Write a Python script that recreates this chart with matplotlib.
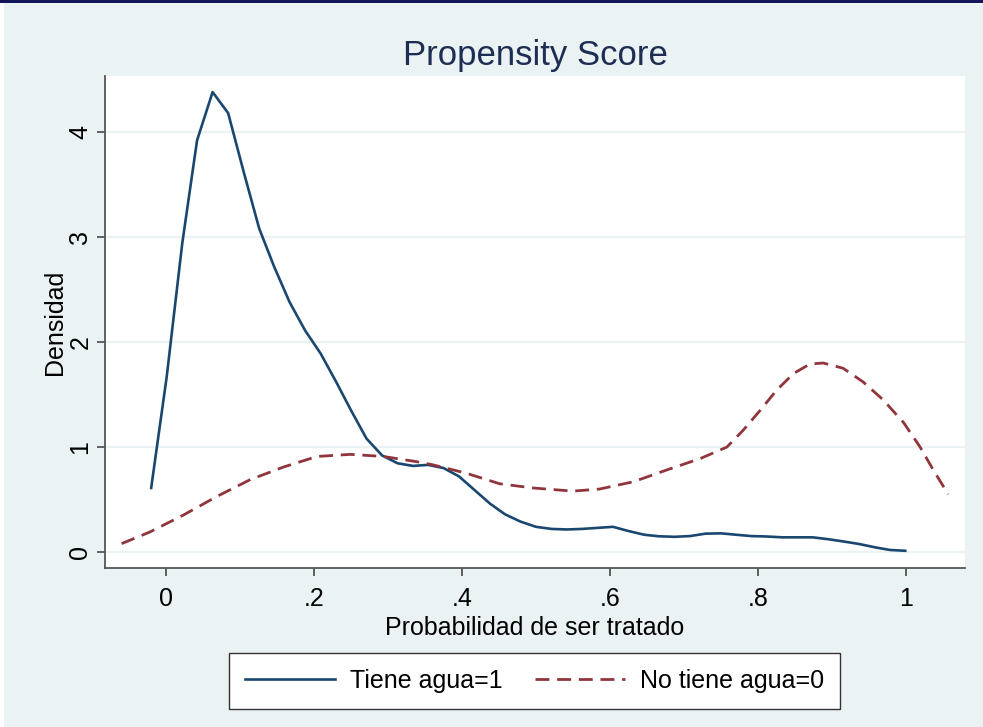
"""Propensity score kernel densities, Stata s2color look."""
import matplotlib
matplotlib.use("Agg")
import matplotlib.pyplot as plt
from matplotlib.lines import Line2D
from matplotlib.patches import Rectangle

# ============ DATA ============
treated_x = [-0.020, 0.001, 0.022, 0.042, 0.063, 0.084, 0.105, 0.126, 0.146, 0.167,
             0.188, 0.209, 0.230, 0.250, 0.271, 0.292, 0.313, 0.334, 0.354, 0.375,
             0.396, 0.417, 0.438, 0.458, 0.479, 0.500, 0.521, 0.542, 0.562, 0.583,
             0.604, 0.625, 0.646, 0.666, 0.687, 0.708, 0.729, 0.750, 0.770, 0.791,
             0.812, 0.833, 0.854, 0.874, 0.895, 0.916, 0.937, 0.958, 0.978, 0.999]
treated_y = [0.61, 1.67, 2.94, 3.92, 4.38, 4.18, 3.62, 3.08, 2.72, 2.38,
             2.11, 1.89, 1.62, 1.35, 1.08, 0.92, 0.845, 0.82, 0.83, 0.80,
             0.72, 0.59, 0.46, 0.36, 0.29, 0.24, 0.22, 0.215, 0.22, 0.23,
             0.24, 0.20, 0.165, 0.15, 0.145, 0.152, 0.175, 0.178, 0.165, 0.152,
             0.148, 0.14, 0.14, 0.14, 0.122, 0.10, 0.076, 0.045, 0.02, 0.012]

control_x = [-0.060, -0.022, 0.023, 0.069, 0.114, 0.159, 0.204, 0.249, 0.294, 0.339,
             0.361, 0.406, 0.451, 0.496, 0.550, 0.586, 0.632, 0.676, 0.722, 0.758,
             0.780, 0.803, 0.825, 0.848, 0.870, 0.888, 0.915, 0.942, 0.969, 0.997,
             1.019, 1.037, 1.057]
control_y = [0.08, 0.19, 0.35, 0.53, 0.69, 0.81, 0.91, 0.93, 0.91, 0.86,
             0.83, 0.75, 0.65, 0.61, 0.58, 0.60, 0.67, 0.78, 0.89, 1.00,
             1.16, 1.35, 1.54, 1.70, 1.79, 1.80, 1.75, 1.62, 1.45, 1.23,
             1.00, 0.78, 0.55]

x_ticks = [0, 0.2, 0.4, 0.6, 0.8, 1.0]
x_ticklabels = ["0", ".2", ".4", ".6", ".8", "1"]
y_ticks = [0, 1, 2, 3, 4]
y_ticklabels = ["0", "1", "2", "3", "4"]

# ============ STYLE ============
plt.rcParams.update({
    'font.family': ['Liberation Sans', 'DejaVu Sans'],
    'font.size': 18,
})
BG = '#EAF2F3'
BLUE = '#1a476f'
RED = '#90353b'
AXIS = '#555555'
DASH = (5.0, 2.8)

fig = plt.figure(figsize=(9.83, 7.27), dpi=100, facecolor=BG)
# screenshot frame: navy bar on top, white strip on the left
fig.patches.append(Rectangle((0, 1 - 3 / 727), 1, 3 / 727, transform=fig.transFigure,
                             facecolor='#14145a', edgecolor='none', zorder=10))
fig.patches.append(Rectangle((0, 0), 4 / 983, 1 - 3 / 727, transform=fig.transFigure,
                             facecolor='white', edgecolor='none', zorder=10))

ax = fig.add_axes([105 / 983, 1 - 568 / 727, 860 / 983, 492 / 727])
ax.set_facecolor('white')

ax.plot(treated_x, treated_y, color=BLUE, lw=1.9, label='Tiene agua=1', zorder=3)
ax.plot(control_x, control_y, color=RED, lw=2.0, dashes=DASH,
        label='No tiene agua=0', zorder=3)

ax.set_xlim(-0.0824, 1.0797)
ax.set_ylim(-0.152, 4.533)
ax.set_xticks(x_ticks, x_ticklabels)
ax.set_yticks(y_ticks, y_ticklabels)
ax.grid(axis='y', color=BG, lw=1.6, zorder=0)
ax.set_axisbelow(True)

for s in ('top', 'right'):
    ax.spines[s].set_visible(False)
for s in ('left', 'bottom'):
    ax.spines[s].set_color(AXIS)
    ax.spines[s].set_linewidth(1.3)
ax.tick_params(axis='both', direction='out', length=6, width=1.3, color=AXIS,
               labelsize=18, labelcolor='black')
ax.tick_params(axis='x', pad=8)
ax.tick_params(axis='y', pad=3)
for lab in ax.get_yticklabels():
    lab.set_rotation(90)
    lab.set_va('center')

ax.set_xlabel('Probabilidad de ser tratado', fontsize=18, labelpad=3)
ax.set_ylabel('Densidad', fontsize=18, labelpad=1)

fig.text(535 / 983, 1 - 56 / 727, 'Propensity Score', ha='center', va='center',
         fontsize=25, color='#1e2d53')

handles = [Line2D([], [], color=BLUE, lw=1.9),
           Line2D([], [], color=RED, lw=2.0, dashes=DASH)]
leg = fig.legend(handles, ['Tiene agua=1', 'No tiene agua=0'],
                 loc='center', bbox_to_anchor=(534.5 / 983, 1 - 681 / 727),
                 ncol=2, fontsize=18, frameon=True, fancybox=False,
                 handlelength=3.6, handletextpad=0.6, columnspacing=1.3,
                 borderpad=0.65, borderaxespad=0)
leg.get_frame().set_edgecolor('#333333')
leg.get_frame().set_linewidth(1.0)
leg.get_frame().set_facecolor('white')
leg.get_frame().set_alpha(1)

fig.savefig('out.png', dpi=100, facecolor=BG)
